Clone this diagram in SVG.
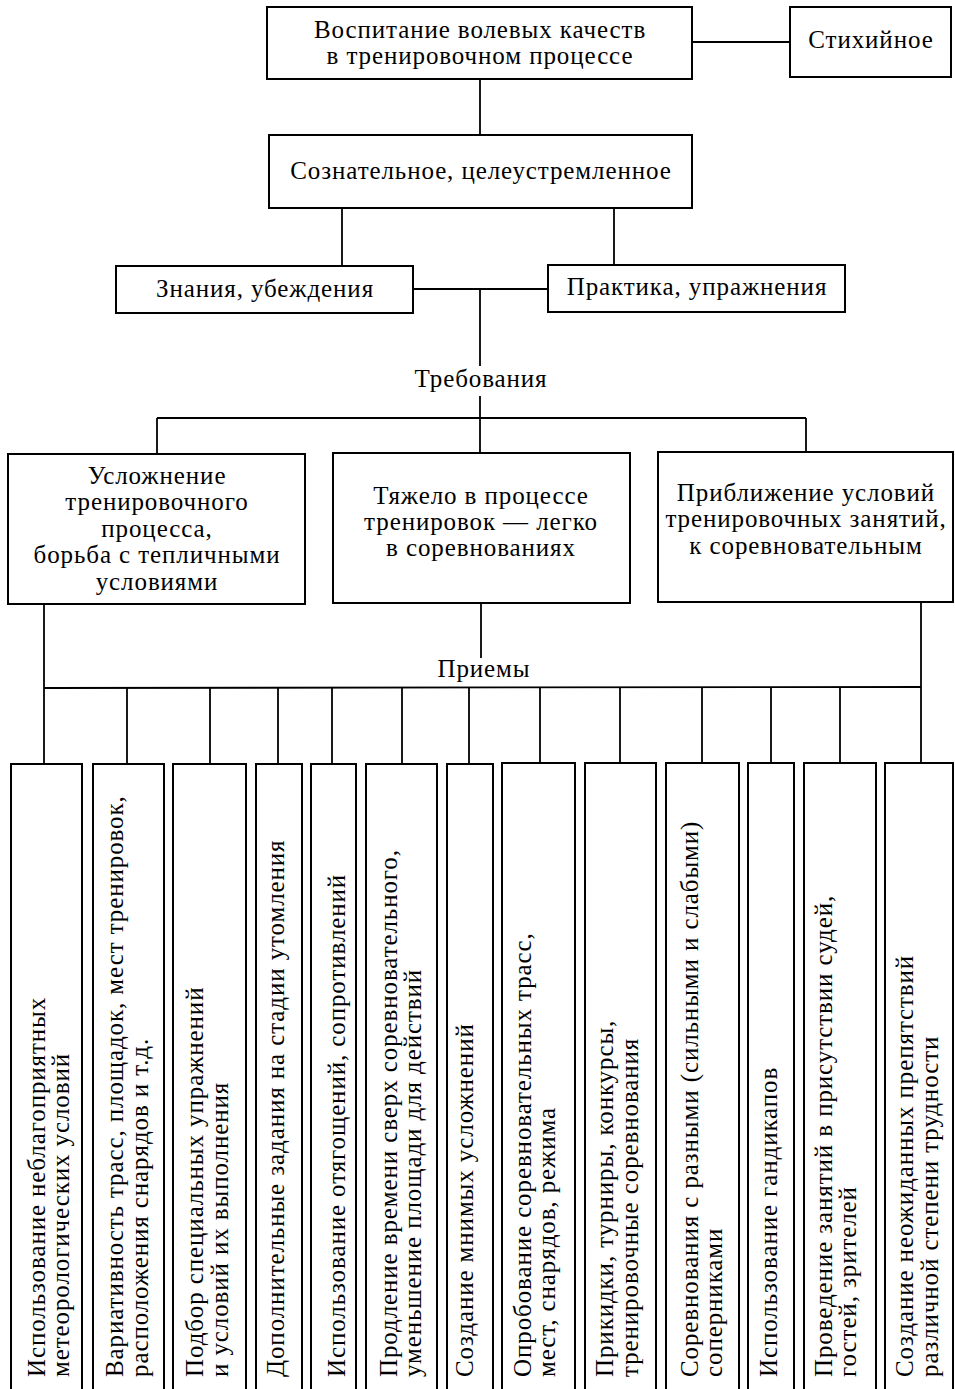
<svg xmlns="http://www.w3.org/2000/svg" width="955" height="1389" viewBox="0 0 955 1389">
  <style>
    .box { fill: #ffffff; stroke: #000000; stroke-width: 2; }
    .ln { fill: none; stroke: #000000; stroke-width: 1.8; }
    text { font-family: "Liberation Serif", "DejaVu Serif", serif; font-size: 25px; fill: #000000; letter-spacing: 0.9px; }
    .c { text-anchor: middle; }
  </style>
  <rect x="0" y="0" width="955" height="1389" fill="#ffffff"/>

  <!-- connectors -->
  <g id="connectors">
    <line class="ln" x1="692" y1="42" x2="790" y2="42"/>
    <line class="ln" x1="480" y1="79" x2="480" y2="135"/>
    <line class="ln" x1="342" y1="208" x2="342" y2="266"/>
    <line class="ln" x1="614" y1="208" x2="614" y2="265"/>
    <line class="ln" x1="413" y1="289" x2="548" y2="289"/>
    <line class="ln" x1="480" y1="289" x2="480" y2="366"/>
    <line class="ln" x1="480" y1="396" x2="480" y2="418"/>
    <line class="ln" x1="157" y1="418" x2="806" y2="418"/>
    <line class="ln" x1="157" y1="418" x2="157" y2="454"/>
    <line class="ln" x1="480" y1="418" x2="480" y2="453"/>
    <line class="ln" x1="806" y1="418" x2="806" y2="452"/>
    <line class="ln" x1="481" y1="603" x2="481" y2="658"/>
    <line class="ln" x1="44" y1="604" x2="44" y2="764"/>
    <line class="ln" x1="921" y1="602" x2="921" y2="763"/>
    <line class="ln" x1="44" y1="688" x2="921" y2="687"/>
    <line class="ln" x1="127" y1="688" x2="127" y2="764"/>
    <line class="ln" x1="210" y1="688" x2="210" y2="764"/>
    <line class="ln" x1="278" y1="688" x2="278" y2="764"/>
    <line class="ln" x1="332" y1="688" x2="332" y2="764"/>
    <line class="ln" x1="402" y1="688" x2="402" y2="764"/>
    <line class="ln" x1="469" y1="688" x2="469" y2="764"/>
    <line class="ln" x1="540" y1="687" x2="540" y2="763"/>
    <line class="ln" x1="620" y1="687" x2="620" y2="763"/>
    <line class="ln" x1="702" y1="687" x2="702" y2="763"/>
    <line class="ln" x1="771" y1="687" x2="771" y2="763"/>
    <line class="ln" x1="840" y1="687" x2="840" y2="763"/>
  </g>

  <!-- upper hierarchy -->
  <g id="root">
    <rect class="box" x="267" y="7" width="425" height="72"/>
    <text class="c" x="480" y="38">Воспитание волевых качеств</text>
    <text class="c" x="480" y="64">в тренировочном процессе</text>
  </g>
  <g id="spontaneous">
    <rect class="box" x="790" y="7" width="161" height="70"/>
    <text class="c" x="871" y="48">Стихийное</text>
  </g>
  <g id="conscious">
    <rect class="box" x="269" y="135" width="423" height="73"/>
    <text class="c" x="481" y="179">Сознательное,  целеустремленное</text>
  </g>
  <g id="knowledge">
    <rect class="box" x="116" y="266" width="297" height="47"/>
    <text class="c" x="265" y="297">Знания,  убеждения</text>
  </g>
  <g id="practice">
    <rect class="box" x="548" y="265" width="297" height="47"/>
    <text class="c" x="697" y="295">Практика,  упражнения</text>
  </g>
  <g id="requirements-label">
    <text class="c" x="481" y="387">Требования</text>
  </g>

  <!-- requirements -->
  <g id="req-complication">
    <rect class="box" x="8" y="454" width="297" height="150"/>
    <text class="c" x="157" y="484">Усложнение</text>
    <text class="c" x="157" y="510">тренировочного</text>
    <text class="c" x="157" y="537">процесса,</text>
    <text class="c" x="157" y="563">борьба с тепличными</text>
    <text class="c" x="157" y="590">условиями</text>
  </g>
  <g id="req-hard">
    <rect class="box" x="333" y="453" width="297" height="150"/>
    <text class="c" x="481" y="504">Тяжело в процессе</text>
    <text class="c" x="481" y="530">тренировок — легко</text>
    <text class="c" x="481" y="556">в соревнованиях</text>
  </g>
  <g id="req-approach">
    <rect class="box" x="658" y="452" width="295" height="150"/>
    <text class="c" x="806" y="501">Приближение условий</text>
    <text class="c" x="806" y="527">тренировочных занятий,</text>
    <text class="c" x="806" y="554">к соревновательным</text>
  </g>
  <g id="methods-label">
    <text class="c" x="484" y="677">Приемы</text>
  </g>

  <!-- methods, vertical columns -->
  <g id="m1">
    <rect class="box" x="11" y="764" width="71" height="640"/>
    <text transform="translate(45,1377) rotate(-90)">Использование неблагоприятных</text>
    <text transform="translate(69,1377) rotate(-90)">метеорологических условий</text>
  </g>
  <g id="m2">
    <rect class="box" x="93" y="764" width="71" height="640"/>
    <text transform="translate(123,1377) rotate(-90)">Вариативность  трасс,  площадок,  мест  тренировок,</text>
    <text transform="translate(148,1377) rotate(-90)">расположения снарядов и т.д.</text>
  </g>
  <g id="m3">
    <rect class="box" x="173" y="764" width="73" height="640"/>
    <text transform="translate(203,1377) rotate(-90)">Подбор специальных упражнений</text>
    <text transform="translate(228,1377) rotate(-90)">и условий их выполнения</text>
  </g>
  <g id="m4">
    <rect class="box" x="256" y="764" width="46" height="640"/>
    <text transform="translate(284,1377) rotate(-90)">Дополнительные задания на стадии утомления</text>
  </g>
  <g id="m5">
    <rect class="box" x="311" y="764" width="45" height="640"/>
    <text transform="translate(345,1377) rotate(-90)">Использование  отягощений,  сопротивлений</text>
  </g>
  <g id="m6">
    <rect class="box" x="366" y="764" width="71" height="640"/>
    <text transform="translate(397,1377) rotate(-90)">Продление времени сверх соревновательного,</text>
    <text transform="translate(421,1377) rotate(-90)">уменьшение площади для действий</text>
  </g>
  <g id="m7">
    <rect class="box" x="447" y="764" width="46" height="640"/>
    <text transform="translate(473,1377) rotate(-90)">Создание мнимых усложнений</text>
  </g>
  <g id="m8">
    <rect class="box" x="502" y="763" width="73" height="640"/>
    <text transform="translate(531,1377) rotate(-90)">Опробование соревновательных трасс,</text>
    <text transform="translate(555,1377) rotate(-90)">мест,  снарядов,  режима</text>
  </g>
  <g id="m9">
    <rect class="box" x="585" y="763" width="71" height="640"/>
    <text transform="translate(613,1377) rotate(-90)">Прикидки,  турниры,  конкурсы,</text>
    <text transform="translate(638,1377) rotate(-90)">тренировочные соревнования</text>
  </g>
  <g id="m10">
    <rect class="box" x="666" y="763" width="73" height="640"/>
    <text transform="translate(698,1377) rotate(-90)">Соревнования  с  разными  (сильными  и  слабыми)</text>
    <text transform="translate(722,1377) rotate(-90)">соперниками</text>
  </g>
  <g id="m11">
    <rect class="box" x="748" y="763" width="46" height="640"/>
    <text transform="translate(777,1377) rotate(-90)">Использование гандикапов</text>
  </g>
  <g id="m12">
    <rect class="box" x="804" y="763" width="72" height="640"/>
    <text transform="translate(832,1377) rotate(-90)">Проведение  занятий  в  присутствии  судей,</text>
    <text transform="translate(856,1377) rotate(-90)">гостей,  зрителей</text>
  </g>
  <g id="m13">
    <rect class="box" x="885" y="763" width="68" height="640"/>
    <text transform="translate(913,1377) rotate(-90)">Создание неожиданных препятствий</text>
    <text transform="translate(938,1377) rotate(-90)">различной степени трудности</text>
  </g>
</svg>
